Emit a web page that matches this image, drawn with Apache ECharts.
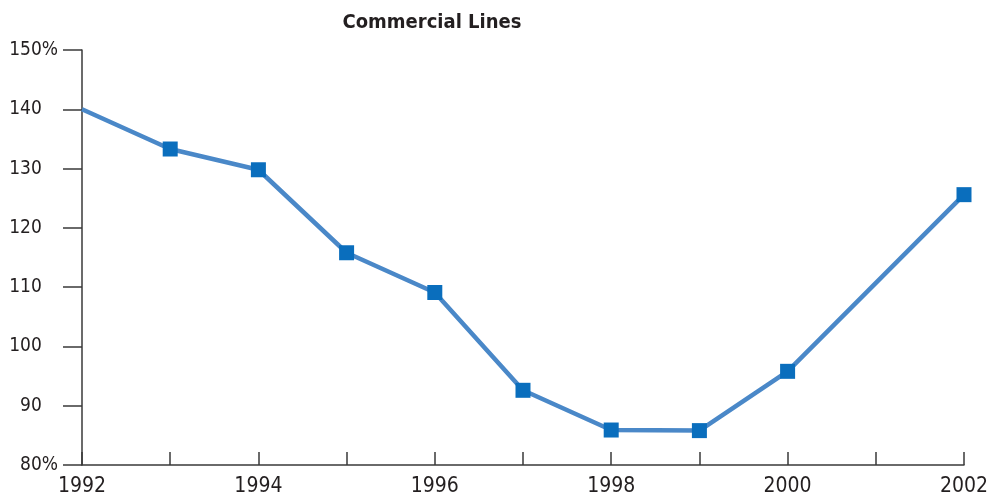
<!DOCTYPE html>
<html><head><meta charset="utf-8">
<script src="https://cdn.jsdelivr.net/npm/echarts@6/dist/echarts.min.js"></script>
<style>html,body{margin:0;padding:0;background:#fff}#c{width:1003px;height:500px}</style>
</head><body><div id="c"></div>
<script>
const years = ['1992','1993','1994','1995','1996','1997','1998','1999','2000','2001','2002'];
const ratios = [140, 133.3, 129.8, 115.8, 109.1, 92.6, 85.9, 85.8, 95.8, null, 125.6];
const hideMarker = ['1992'];
const yTicks = { min: 80, max: 150, step: 10 };
const titleText = 'Commercial Lines';

const FONT = '"DejaVu Sans Condensed","Liberation Sans Narrow",sans-serif';
const chart = echarts.init(document.getElementById('c'), null, {renderer:'canvas'});
chart.setOption({
  animation: false,
  backgroundColor: '#fff',
  title: {
    text: titleText, left: 427, top: 8, textAlign: 'center',
    textStyle: { fontFamily: FONT, fontWeight: 'bold', fontSize: 20, color: '#231f20' }
  },
  grid: { left: 82, right: 39, top: 50, bottom: 35, containLabel: false },
  xAxis: {
    type: 'category', data: years, boundaryGap: false,
    axisLine: { lineStyle: { color: '#3a3a3a', width: 1.5 } },
    axisTick: { inside: true, length: 13, interval: 0, lineStyle: { color: '#3a3a3a', width: 1.5 } },
    axisLabel: { interval: 1, margin: 11, fontFamily: FONT, fontSize: 21, color: '#231f20' },
    splitLine: { show: false }
  },
  yAxis: {
    type: 'value', min: yTicks.min, max: yTicks.max, interval: yTicks.step,
    axisLine: { show: true, lineStyle: { color: '#3a3a3a', width: 1.5 } },
    axisTick: { show: true, length: 19, lineStyle: { color: '#3a3a3a', width: 1.5 } },
    splitLine: { show: false },
    axisLabel: {
      margin: 24, fontFamily: FONT, fontSize: 19, color: '#231f20',
      formatter: v => (v === yTicks.min || v === yTicks.max) ? '{n|' + v + '%}' : '{n|' + v + '}{h|%}',
      rich: { n: { fontFamily: FONT, fontSize: 19, color: '#231f20' }, h: { fontFamily: FONT, fontSize: 19, color: 'rgba(0,0,0,0)' } }
    }
  },
  series: [{
    type: 'line',
    data: ratios.map((v, i) => hideMarker.includes(years[i]) ? { value: v, symbol: 'none' } : v),
    connectNulls: true,
    symbol: 'rect', symbolSize: 15,
    itemStyle: { color: '#0A6EBD' },
    lineStyle: { color: '#4A88C8', width: 4.5 }
  }]
});
</script></body></html>
